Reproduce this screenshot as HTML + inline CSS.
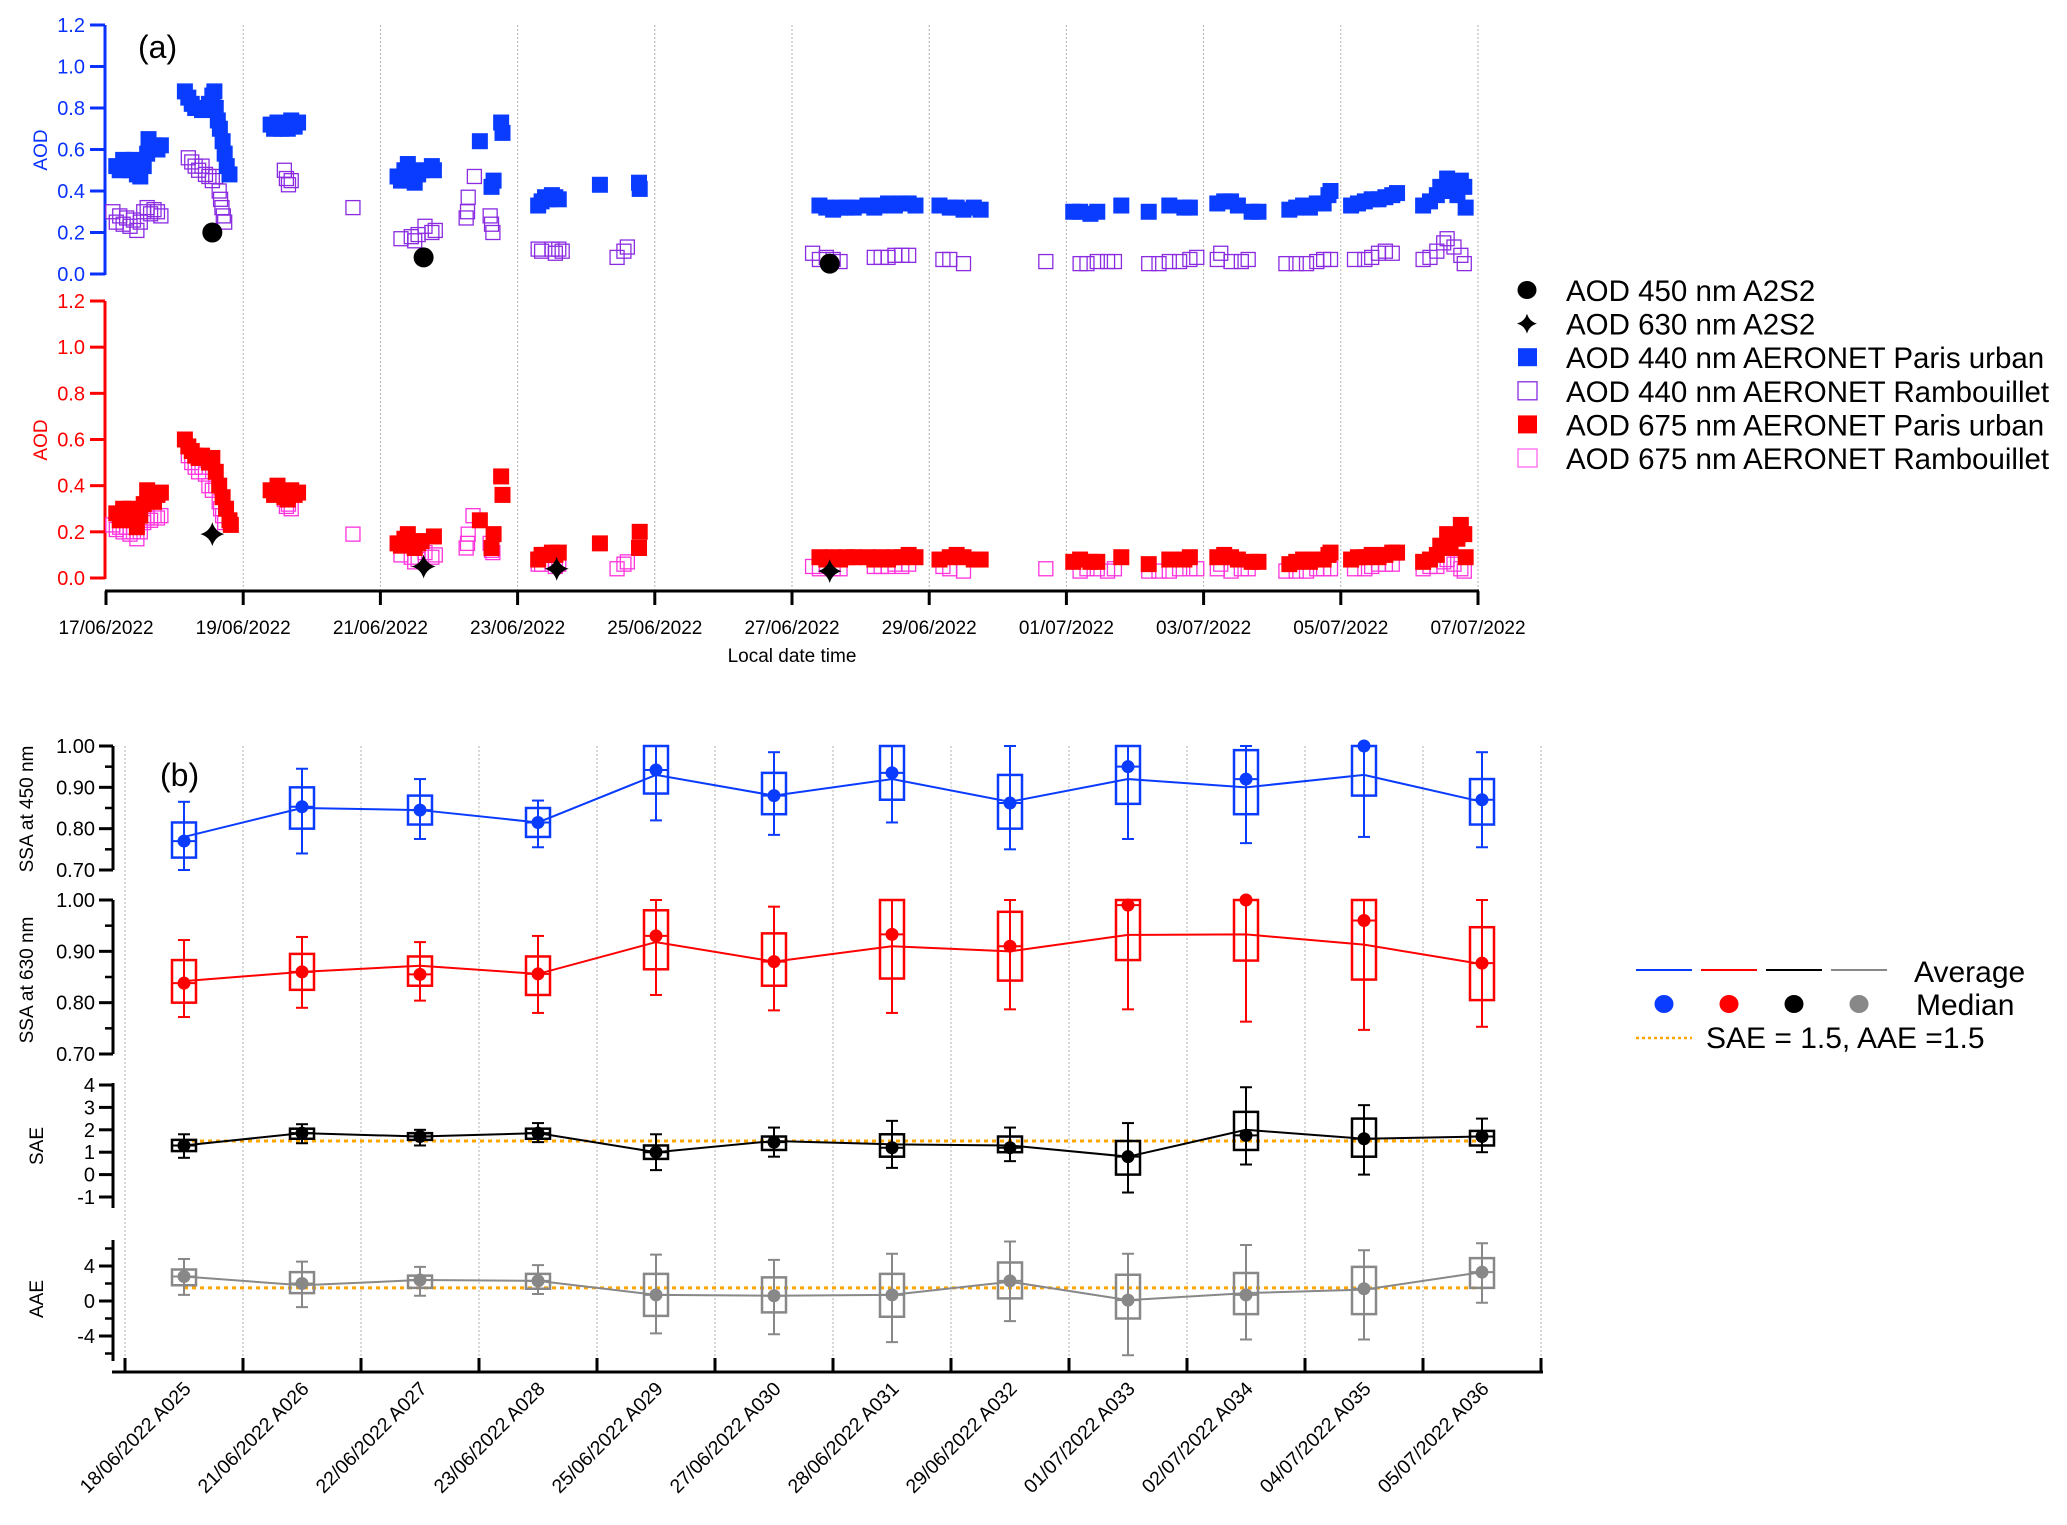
<!DOCTYPE html>
<html><head><meta charset="utf-8"><style>
html,body{margin:0;padding:0;background:#fff;}
svg{display:block;font-family:"Liberation Sans",Arial,sans-serif;}
</style></head><body>
<svg id="fig" width="2067" height="1525" viewBox="0 0 2067 1525" xmlns="http://www.w3.org/2000/svg"></svg>
<script>
// ---------- Panel (a) data: [day since 17/06/2022, AOD] ----------
const dateTicks = ["17/06/2022","19/06/2022","21/06/2022","23/06/2022","25/06/2022","27/06/2022","29/06/2022","01/07/2022","03/07/2022","05/07/2022","07/07/2022"];
const aodTicks = [0.0,0.2,0.4,0.6,0.8,1.0,1.2];
const paris440 = [[0.15,0.52],[0.2,0.5],[0.25,0.55],[0.3,0.53],[0.35,0.5],[0.4,0.55],[0.45,0.48],[0.5,0.47],[0.55,0.52],[0.6,0.58],[0.62,0.65],[0.65,0.6],[0.7,0.62],[0.75,0.6],[0.8,0.62],
[1.15,0.88],[1.2,0.85],[1.25,0.82],[1.3,0.8],[1.35,0.8],[1.4,0.79],[1.45,0.8],[1.5,0.82],[1.55,0.86],[1.58,0.88],[1.6,0.8],[1.63,0.74],[1.66,0.7],[1.7,0.64],[1.73,0.58],[1.76,0.52],[1.8,0.48],
[2.4,0.72],[2.45,0.7],[2.5,0.73],[2.55,0.7],[2.6,0.72],[2.65,0.7],[2.7,0.74],[2.75,0.71],[2.8,0.73],
[4.25,0.47],[4.3,0.45],[4.35,0.5],[4.4,0.53],[4.45,0.47],[4.5,0.44],[4.55,0.48],[4.6,0.5],[4.75,0.52],[4.78,0.5],
[5.45,0.64],[5.62,0.42],[5.65,0.45],[5.76,0.73],[5.78,0.68],
[6.3,0.33],[6.35,0.35],[6.4,0.37],[6.45,0.36],[6.5,0.38],[6.55,0.37],[6.6,0.36],
[7.2,0.43],[7.77,0.44],[7.78,0.41],
[10.4,0.33],[10.5,0.32],[10.6,0.31],[10.7,0.32],[10.8,0.32],[10.9,0.32],
[11.1,0.33],[11.2,0.32],[11.3,0.33],[11.4,0.34],[11.5,0.33],[11.6,0.34],[11.7,0.34],[11.8,0.33],
[12.15,0.33],[12.3,0.32],[12.4,0.32],[12.5,0.31],[12.65,0.32],[12.75,0.31],
[14.1,0.3],[14.2,0.3],[14.35,0.29],[14.45,0.3],[14.8,0.33],
[15.2,0.3],[15.5,0.33],[15.72,0.32],[15.8,0.32],
[16.2,0.34],[16.3,0.35],[16.4,0.35],[16.5,0.33],[16.7,0.3],[16.8,0.3],
[17.25,0.31],[17.35,0.32],[17.45,0.33],[17.55,0.32],[17.65,0.34],[17.75,0.34],[17.82,0.38],[17.85,0.4],
[18.15,0.33],[18.25,0.34],[18.35,0.35],[18.45,0.36],[18.55,0.36],[18.65,0.37],[18.75,0.38],[18.82,0.39],
[19.2,0.33],[19.3,0.35],[19.4,0.38],[19.45,0.42],[19.55,0.46],[19.6,0.4],[19.7,0.38],[19.75,0.45],[19.8,0.42],[19.82,0.32]];
const ramb440 = [[0.1,0.3],[0.15,0.25],[0.2,0.28],[0.25,0.24],[0.3,0.27],[0.35,0.23],[0.4,0.26],[0.45,0.21],[0.5,0.25],[0.55,0.3],[0.6,0.32],[0.65,0.29],[0.7,0.31],[0.75,0.3],[0.8,0.28],
[1.2,0.56],[1.25,0.54],[1.3,0.52],[1.35,0.5],[1.4,0.52],[1.45,0.48],[1.5,0.47],[1.55,0.45],[1.6,0.47],[1.65,0.4],[1.67,0.36],[1.69,0.32],[1.71,0.28],[1.73,0.25],
[2.6,0.5],[2.63,0.46],[2.66,0.43],[2.7,0.45],
[3.6,0.32],
[4.3,0.17],[4.45,0.18],[4.5,0.16],[4.55,0.19],[4.65,0.23],[4.75,0.2],[4.8,0.21],
[5.25,0.27],[5.27,0.3],[5.28,0.37],[5.37,0.47],[5.6,0.28],[5.62,0.24],[5.64,0.2],
[6.3,0.12],[6.35,0.11],[6.5,0.12],[6.55,0.1],[6.6,0.12],[6.65,0.11],
[7.45,0.08],[7.55,0.11],[7.6,0.13],
[10.3,0.1],[10.4,0.07],[10.5,0.08],[10.6,0.07],[10.7,0.06],
[11.2,0.08],[11.3,0.08],[11.4,0.08],[11.5,0.09],[11.6,0.09],[11.7,0.09],
[12.2,0.07],[12.3,0.07],[12.5,0.05],
[13.7,0.06],
[14.2,0.05],[14.3,0.05],[14.45,0.06],[14.6,0.06],[14.7,0.06],
[15.2,0.05],[15.35,0.05],[15.5,0.06],[15.65,0.06],[15.8,0.07],[15.9,0.08],
[16.2,0.07],[16.25,0.1],[16.4,0.06],[16.55,0.06],[16.65,0.07],
[17.2,0.05],[17.35,0.05],[17.5,0.05],[17.65,0.06],[17.75,0.07],[17.85,0.07],
[18.2,0.07],[18.35,0.07],[18.45,0.08],[18.55,0.1],[18.65,0.11],[18.75,0.1],
[19.2,0.07],[19.3,0.08],[19.4,0.11],[19.5,0.15],[19.55,0.17],[19.65,0.13],[19.75,0.09],[19.8,0.05]];
const paris675 = [[0.15,0.28],[0.2,0.25],[0.25,0.3],[0.3,0.27],[0.35,0.3],[0.4,0.25],[0.45,0.22],[0.5,0.27],[0.55,0.32],[0.6,0.38],[0.65,0.35],[0.7,0.33],[0.75,0.36],[0.8,0.37],
[1.15,0.6],[1.2,0.57],[1.25,0.55],[1.3,0.53],[1.35,0.52],[1.4,0.53],[1.45,0.52],[1.5,0.5],[1.55,0.52],[1.6,0.46],[1.65,0.4],[1.7,0.35],[1.75,0.3],[1.8,0.25],[1.82,0.23],
[2.4,0.38],[2.45,0.36],[2.5,0.4],[2.55,0.37],[2.6,0.35],[2.65,0.34],[2.7,0.38],[2.75,0.36],[2.8,0.37],
[4.25,0.15],[4.3,0.14],[4.35,0.17],[4.4,0.19],[4.45,0.15],[4.5,0.13],[4.55,0.15],[4.6,0.16],[4.78,0.18],
[5.45,0.25],[5.62,0.13],[5.65,0.19],[5.76,0.44],[5.78,0.36],
[6.3,0.08],[6.35,0.1],[6.4,0.1],[6.5,0.11],[6.55,0.1],[6.6,0.11],
[7.2,0.15],[7.77,0.13],[7.78,0.2],
[10.4,0.09],[10.5,0.08],[10.6,0.09],[10.7,0.08],[10.8,0.09],[10.9,0.09],
[11.1,0.09],[11.2,0.08],[11.3,0.09],[11.4,0.08],[11.5,0.09],[11.6,0.09],[11.7,0.1],[11.8,0.09],
[12.15,0.08],[12.3,0.09],[12.4,0.1],[12.5,0.09],[12.65,0.08],[12.75,0.08],
[14.1,0.07],[14.2,0.08],[14.35,0.07],[14.45,0.07],[14.8,0.09],
[15.2,0.06],[15.5,0.08],[15.72,0.08],[15.8,0.09],
[16.2,0.09],[16.3,0.1],[16.4,0.09],[16.5,0.08],[16.7,0.07],[16.8,0.07],
[17.25,0.06],[17.35,0.07],[17.45,0.08],[17.55,0.07],[17.65,0.08],[17.75,0.08],[17.82,0.1],[17.85,0.11],
[18.15,0.08],[18.25,0.09],[18.35,0.09],[18.45,0.1],[18.55,0.09],[18.65,0.1],[18.75,0.11],[18.82,0.11],
[19.2,0.07],[19.3,0.08],[19.4,0.1],[19.45,0.14],[19.55,0.19],[19.6,0.13],[19.7,0.17],[19.75,0.23],[19.8,0.19],[19.82,0.09]];
const ramb675 = [[0.1,0.23],[0.15,0.21],[0.2,0.22],[0.25,0.2],[0.3,0.22],[0.35,0.19],[0.4,0.2],[0.45,0.17],[0.5,0.2],[0.55,0.24],[0.6,0.26],[0.65,0.25],[0.7,0.27],[0.75,0.26],[0.8,0.27],
[1.2,0.53],[1.25,0.5],[1.3,0.48],[1.35,0.46],[1.4,0.48],[1.45,0.45],[1.5,0.4],[1.55,0.38],[1.6,0.4],[1.65,0.33],[1.67,0.3],[1.7,0.27],[1.73,0.24],
[2.6,0.34],[2.63,0.31],[2.66,0.32],[2.7,0.3],
[3.6,0.19],
[4.3,0.1],[4.45,0.09],[4.5,0.07],[4.55,0.08],[4.65,0.11],[4.75,0.09],[4.8,0.1],
[5.25,0.13],[5.27,0.15],[5.28,0.19],[5.35,0.27],[5.6,0.15],[5.62,0.12],[5.64,0.11],
[6.3,0.06],[6.35,0.06],[6.5,0.07],[6.55,0.05],[6.6,0.06],
[7.45,0.04],[7.55,0.06],[7.6,0.07],
[10.3,0.05],[10.4,0.04],[10.5,0.05],[10.6,0.04],[10.7,0.04],
[11.2,0.05],[11.3,0.05],[11.4,0.05],[11.5,0.06],[11.6,0.05],[11.7,0.06],
[12.2,0.05],[12.3,0.04],[12.5,0.03],
[13.7,0.04],
[14.2,0.03],[14.3,0.04],[14.45,0.04],[14.6,0.03],[14.7,0.04],
[15.2,0.03],[15.35,0.03],[15.5,0.03],[15.65,0.04],[15.8,0.04],[15.9,0.04],
[16.2,0.04],[16.25,0.06],[16.4,0.03],[16.55,0.04],[16.65,0.04],
[17.2,0.03],[17.35,0.03],[17.5,0.03],[17.65,0.04],[17.75,0.04],[17.85,0.04],
[18.2,0.04],[18.35,0.04],[18.45,0.05],[18.55,0.06],[18.65,0.06],[18.75,0.06],
[19.2,0.04],[19.3,0.05],[19.4,0.05],[19.5,0.07],[19.55,0.08],[19.65,0.06],[19.75,0.04],[19.8,0.03]];
const a2s2Days = [1.55,4.63,10.55];
const a2s2_450 = [0.2,0.08,0.05];
const a2s2_630Days = [1.55,4.63,6.57,10.55];
const a2s2_630 = [0.19,0.05,0.04,0.03];

// ---------- Panel (b) data ----------
const cats = ["18/06/2022 A025","21/06/2022 A026","22/06/2022 A027","23/06/2022 A028","25/06/2022 A029","27/06/2022 A030","28/06/2022 A031","29/06/2022 A032","01/07/2022 A033","02/07/2022 A034","04/07/2022 A035","05/07/2022 A036"];
const s450Avg = [0.78,0.85,0.845,0.815,0.93,0.88,0.92,0.865,0.92,0.90,0.93,0.865];
const s450Med = [0.77,0.853,0.845,0.815,0.942,0.88,0.935,0.862,0.95,0.92,1.0,0.87];
const s450Q1  = [0.73,0.80,0.81,0.78,0.885,0.835,0.87,0.80,0.86,0.835,0.88,0.81];
const s450Q3  = [0.815,0.90,0.88,0.85,1.0,0.935,1.0,0.93,1.0,0.99,1.0,0.92];
const s450Min = [0.70,0.74,0.775,0.755,0.82,0.785,0.815,0.75,0.775,0.765,0.78,0.755];
const s450Max = [0.865,0.945,0.92,0.868,1.0,0.985,1.0,1.0,1.0,1.0,1.0,0.985];
const s630Avg = [0.842,0.86,0.872,0.856,0.918,0.88,0.91,0.90,0.932,0.933,0.913,0.875];
const s630Med = [0.838,0.86,0.855,0.856,0.93,0.88,0.933,0.91,0.99,1.0,0.96,0.877];
const s630Q1  = [0.80,0.825,0.833,0.815,0.865,0.833,0.847,0.843,0.883,0.882,0.845,0.805];
const s630Q3  = [0.883,0.895,0.89,0.89,0.98,0.935,1.0,0.977,1.0,1.0,1.0,0.947];
const s630Min = [0.772,0.79,0.804,0.78,0.815,0.785,0.78,0.787,0.787,0.763,0.747,0.753];
const s630Max = [0.922,0.928,0.918,0.93,1.0,0.987,1.0,1.0,1.0,1.0,1.0,1.0];
const saeAvg = [1.3,1.85,1.7,1.85,1.0,1.5,1.35,1.3,0.8,2.0,1.6,1.7];
const saeMed = [1.3,1.85,1.7,1.85,1.0,1.45,1.2,1.2,0.8,1.75,1.6,1.7];
const saeQ1  = [1.05,1.6,1.55,1.6,0.7,1.1,0.8,1.0,0.0,1.1,0.8,1.3];
const saeQ3  = [1.55,2.05,1.85,2.05,1.3,1.7,1.8,1.7,1.5,2.8,2.5,1.95];
const saeMin = [0.75,1.4,1.3,1.45,0.2,0.8,0.3,0.6,-0.8,0.45,0.0,1.0];
const saeMax = [1.8,2.25,2.0,2.3,1.8,2.1,2.4,2.1,2.3,3.9,3.1,2.5];
const aaeAvg = [2.8,1.8,2.4,2.3,0.7,0.6,0.7,2.2,0.1,0.9,1.3,3.3];
const aaeMed = [2.8,2.0,2.4,2.3,0.7,0.6,0.7,2.3,0.1,0.7,1.4,3.3];
const aaeQ1  = [1.8,0.9,1.5,1.4,-1.7,-1.3,-1.8,0.3,-2.0,-1.5,-1.5,1.5];
const aaeQ3  = [3.6,3.3,2.9,3.1,3.1,2.7,3.1,4.4,3.0,3.2,3.9,4.9];
const aaeMin = [0.7,-0.7,0.6,0.8,-3.7,-3.8,-4.7,-2.3,-6.2,-4.4,-4.4,-0.2];
const aaeMax = [4.8,4.5,3.9,4.1,5.3,4.7,5.4,6.8,5.4,6.4,5.8,6.6];
const refExp = 1.5;

const NS="http://www.w3.org/2000/svg";
const svg=document.getElementById('fig');
function el(tag,attrs,parent){const e=document.createElementNS(NS,tag);for(const k in attrs)e.setAttribute(k,attrs[k]);(parent||svg).appendChild(e);return e;}
function txt(s,attrs,parent){const e=el('text',attrs,parent);e.textContent=s;return e;}

// ---------- Panel (a) scales ----------
const xA=d=>106+d*68.6;
const yTop=v=>274-v/1.2*249;
const yBot=v=>578-v/1.2*277;
const gA=el('g',{});



dateTicks.forEach((t,i)=>{
  const x=xA(i*2);
  if(i>0){const g=el('line',{x1:x,y1:25,x2:x,y2:591,stroke:'#b0b0b0','stroke-width':1,'stroke-dasharray':'2,2'},gA);
  }
  const tk=el('line',{x1:x,y1:591,x2:x,y2:605,stroke:'#000','stroke-width':3},gA);
  
  const lb=txt(t,{x:x,y:634,'font-size':19,'text-anchor':'middle',fill:'#000'},gA);
  
});
const xAx=el('line',{x1:105,y1:591,x2:1479,y2:591,stroke:'#000','stroke-width':3},gA);

const xTitle=txt('Local date time',{x:792,y:662,'font-size':19,'text-anchor':'middle'},gA);


function yAxisA(sc,top,bot,col,name){
  const l=el('line',{x1:105,y1:top,x2:105,y2:bot+1,stroke:col,'stroke-width':3},gA);
  
  aodTicks.forEach(v=>{
    const y=sc(v);
    el('line',{x1:90,y1:y,x2:105,y2:y,stroke:col,'stroke-width':3},gA);
    const t=txt(v.toFixed(1),{x:85,y:y+7,'font-size':20,'text-anchor':'end',fill:col},gA);
    
  });
}
yAxisA(yTop,25,274,'#0a32ff','y-axis-aod-blue');
yAxisA(yBot,301,578,'#ff0000','y-axis-aod-red');
let t1=txt('AOD',{x:0,y:0,'font-size':19,'text-anchor':'middle',fill:'#0a32ff',transform:'translate(47,150) rotate(-90)'},gA);

let t2=txt('AOD',{x:0,y:0,'font-size':19,'text-anchor':'middle',fill:'#ff0000',transform:'translate(47,440) rotate(-90)'},gA);

let pa=txt('(a)',{x:138,y:58,'font-size':32},gA);


function squares(data,sc,fill,stroke,name){
  const g=el('g',{},gA);
  
  data.forEach(p=>{
    const s=fill==='none'?14:16;
    const r=el('rect',{x:xA(p[0])-s/2,y:sc(p[1])-s/2,width:s,height:s,fill:fill,stroke:stroke,'stroke-width':fill==='none'?1.3:0},g);
    
  });
}
squares(ramb440,yTop,'none','#8a2be2','rambouillet-440');
squares(paris440,yTop,'#0a3cff','none','paris-440');
squares(ramb675,yBot,'none','#ff33dd','rambouillet-675');
squares(paris675,yBot,'#ff0000','none','paris-675');
a2s2Days.forEach((d,i)=>{
  const c=el('ellipse',{cx:xA(d),cy:yTop(a2s2_450[i]),rx:10,ry:10,fill:'#000'},gA);
  
});
function star(cx,cy,r){const k=r*0.22;return `M${cx},${cy-r} Q${cx+k},${cy-k} ${cx+r},${cy} Q${cx+k},${cy+k} ${cx},${cy+r} Q${cx-k},${cy+k} ${cx-r},${cy} Q${cx-k},${cy-k} ${cx},${cy-r}Z`;}
a2s2_630Days.forEach((d,i)=>{
  const s=el('path',{d:star(xA(d),yBot(a2s2_630[i]),12),fill:'#000'},gA);
  
});

// legend a
const legA=el('g',{});

const legItems=[['circle','AOD 450 nm A2S2'],['star','AOD 630 nm A2S2'],['fb','AOD 440 nm AERONET Paris urban'],['ob','AOD 440 nm AERONET Rambouillet'],['fr','AOD 675 nm AERONET Paris urban'],['op','AOD 675 nm AERONET Rambouillet']];
legItems.forEach((it,i)=>{
  const y=290+i*33.6;
  const g=el('g',{},legA);
  
  if(it[0]==='circle')el('ellipse',{cx:1527,cy:y,rx:9.5,ry:9,fill:'#000'},g);
  else if(it[0]==='star')el('path',{d:star(1527,y,10),fill:'#000'},g);
  else{const m={fb:['#0a3cff','none'],ob:['none','#8a2be2'],fr:['#ff0000','none'],op:['none','#ff66ee']}[it[0]];
    el('rect',{x:1518,y:y-9,width:19,height:18,fill:m[0],stroke:m[1],'stroke-width':1.3},g);}
  txt(it[1],{x:1566,y:y+11,'font-size':29.5},g);
});

// ---------- Panel (b) ----------
const gB=el('g',{});

const cx=i=>184+i*118;
const y450=v=>746+(1-v)/0.3*124;
const y630=v=>900+(1-v)/0.3*154;
const ySAE=v=>1085+(4-v)*22.4;
const yAAE=v=>1301-v*8.75;
for(let i=0;i<=12;i++){
  const x=125+i*118;
  const g=el('line',{x1:x,y1:746,x2:x,y2:1372,stroke:'#b0b0b0','stroke-width':1,'stroke-dasharray':'2,2'},gB);
  
  el('line',{x1:x,y1:1358,x2:x,y2:1372,stroke:'#000','stroke-width':3},gB);
}
const xbAx=el('line',{x1:112,y1:1372,x2:1543,y2:1372,stroke:'#000','stroke-width':3},gB);

cats.forEach((c,i)=>{
  const t=txt(c,{x:0,y:0,'font-size':19.5,'text-anchor':'end',transform:`translate(${cx(i)+8},${1390}) rotate(-45)`},gB);
  
});
function yAxisB(sc,top,bot,majors,minors,fmt,name,title,ty){
  const l=el('line',{x1:113,y1:top,x2:113,y2:bot,stroke:'#000','stroke-width':3},gB);
  
  minors.forEach(v=>el('line',{x1:105,y1:sc(v),x2:113,y2:sc(v),stroke:'#000','stroke-width':2.5},gB));
  majors.forEach(v=>{
    el('line',{x1:99,y1:sc(v),x2:113,y2:sc(v),stroke:'#000','stroke-width':3},gB);
    const t=txt(fmt(v),{x:95,y:sc(v)+7,'font-size':20,'text-anchor':'end'},gB);
    
  });
  const tt=txt(title,{x:0,y:0,'font-size':19,'text-anchor':'middle',transform:`translate(${ty[0]},${ty[1]}) rotate(-90)`},gB);
  
}
yAxisB(y450,746,870,[0.7,0.8,0.9,1.0],[0.75,0.85,0.95],v=>v.toFixed(2),'y-axis-ssa450','SSA at 450 nm',[33,809]);
yAxisB(y630,900,1054,[0.7,0.8,0.9,1.0],[0.75,0.85,0.95],v=>v.toFixed(2),'y-axis-ssa630','SSA at 630 nm',[33,980]);
yAxisB(ySAE,1083,1208,[4,3,2,1,0,-1],[],v=>String(v),'y-axis-sae','SAE',[43,1146]);
yAxisB(yAAE,1240,1361,[4,0,-4],[6,2,-2,-6],v=>String(v),'y-axis-aae','AAE',[43,1299]);
let pb=txt('(b)',{x:160,y:786,'font-size':32},gB);


[[ySAE,'sae-reference-line'],[yAAE,'aae-reference-line']].forEach(r=>{
  const l=el('line',{x1:cx(0),y1:r[0](refExp),x2:cx(11),y2:r[0](refExp),stroke:'#ffa500','stroke-width':3,'stroke-dasharray':'4,4'},gB);
  
});

function series(sc,avg,med,q1,q3,mn,mx,col,name){
  const g=el('g',{},gB);
  
  cats.forEach((c,i)=>{
    const x=cx(i);
    el('line',{x1:x,y1:sc(mn[i]),x2:x,y2:sc(mx[i]),stroke:col,'stroke-width':2},g);
    el('line',{x1:x-6,y1:sc(mn[i]),x2:x+6,y2:sc(mn[i]),stroke:col,'stroke-width':2},g);
    el('line',{x1:x-6,y1:sc(mx[i]),x2:x+6,y2:sc(mx[i]),stroke:col,'stroke-width':2},g);
    const b=el('rect',{x:x-12,y:sc(q3[i]),width:24,height:sc(q1[i])-sc(q3[i]),fill:'none',stroke:col,'stroke-width':2.5},g);
    
    el('line',{x1:x-12,y1:sc(med[i]),x2:x+12,y2:sc(med[i]),stroke:col,'stroke-width':2},g);
  });
  const pts=avg.map((v,i)=>cx(i)+','+sc(v)).join(' ');
  const pl=el('polyline',{points:pts,fill:'none',stroke:col,'stroke-width':2},g);
  
  med.forEach((v,i)=>{
    const d=el('circle',{cx:cx(i),cy:sc(v),r:6.5,fill:col},g);
    
  });
}
series(y450,s450Avg,s450Med,s450Q1,s450Q3,s450Min,s450Max,'#0a3cff','ssa450');
series(y630,s630Avg,s630Med,s630Q1,s630Q3,s630Min,s630Max,'#ff0000','ssa630');
series(ySAE,saeAvg,saeMed,saeQ1,saeQ3,saeMin,saeMax,'#000000','sae');
series(yAAE,aaeAvg,aaeMed,aaeQ1,aaeQ3,aaeMin,aaeMax,'#888888','aae');

// legend b
const legB=el('g',{});

const lc=['#0a3cff','#ff0000','#000','#888'];
lc.forEach((c,i)=>{
  const x0=1636+i*65;
  el('line',{x1:x0,y1:970,x2:x0+56,y2:970,stroke:c,'stroke-width':2},legB);
  el('ellipse',{cx:x0+28,cy:1004,rx:9.5,ry:9,fill:c},legB);
});
let la=txt('Average',{x:1914,y:982,'font-size':30},legB);

let lm=txt('Median',{x:1916,y:1015,'font-size':30},legB);

el('line',{x1:1636,y1:1038,x2:1692,y2:1038,stroke:'#ffa500','stroke-width':2.5,'stroke-dasharray':'3,3'},legB);
let lr=txt('SAE = 1.5, AAE =1.5',{x:1706,y:1048,'font-size':30},legB);

</script>
</body></html>
